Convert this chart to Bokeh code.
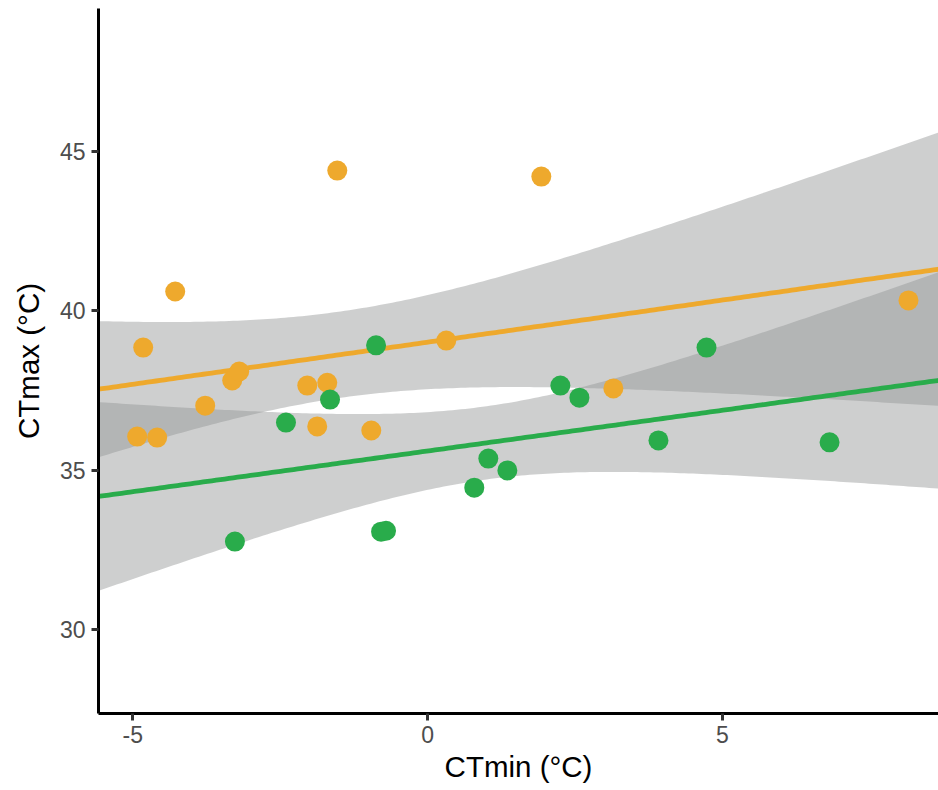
import numpy as np
from bokeh.plotting import figure
from bokeh.models import Range1d, FixedTicker
from bokeh.embed import file_html
from bokeh.resources import INLINE

# ---- data ----
orange_x = [-4.926, -4.824, -4.587, -4.281, -3.772, -3.314, -3.195, -2.041,
            -1.872, -1.702, -1.532, -0.955, 0.317, 1.929, 3.151, 8.157]
orange_y = [36.06, 38.85, 36.03, 40.61, 37.03, 37.82, 38.10, 37.66,
            36.38, 37.75, 44.40, 36.25, 39.07, 44.21, 37.57, 40.33]

green_x = [-3.268, -2.402, -1.655, -0.874, -0.789, -0.705, 0.792, 1.030,
           1.353, 2.252, 2.575, 3.916, 4.731, 6.818]
green_y = [32.77, 36.50, 37.22, 38.92, 33.08, 33.11, 34.46, 35.37,
           35.00, 37.66, 37.28, 35.94, 38.85, 35.88]

x_ticks = [-5, 0, 5]
x_tick_labels = {-5: "-5", 0: "0", 5: "5"}
y_ticks = [30, 35, 40, 45]

# 97.5% Student t quantiles by residual degrees of freedom
T_975 = {12: 2.1788, 14: 2.1448}

ORANGE = "#EEA92D"
GREEN = "#29AC4B"
FONT = "Liberation Sans"


def lm_band(xs, ys, grid):
    x = np.asarray(xs, float)
    y = np.asarray(ys, float)
    n = len(x)
    xb, yb = x.mean(), y.mean()
    sxx = ((x - xb) ** 2).sum()
    b = ((x - xb) * (y - yb)).sum() / sxx
    a = yb - b * xb
    resid = y - (a + b * x)
    s = np.sqrt((resid ** 2).sum() / (n - 2))
    fit = a + b * grid
    se = s * np.sqrt(1.0 / n + (grid - xb) ** 2 / sxx)
    t = T_975[n - 2]
    return fit, fit - t * se, fit + t * se


p = figure(width=938, height=790, output_backend="svg", toolbar_location=None,
           x_range=Range1d(-5.582, 8.666), y_range=Range1d(27.38, 49.48),
           min_border_left=98, min_border_right=0, min_border_top=8,
           min_border_bottom=77, background_fill_color="white")
p.grid.visible = False
p.outline_line_color = None

grid = np.linspace(-5.7, 8.8, 200)

fits = []
for xs, ys in [(orange_x, orange_y), (green_x, green_y)]:
    fit, lo, hi = lm_band(xs, ys, grid)
    fits.append(fit)
    p.varea(x=grid, y1=lo, y2=hi, fill_color="#929494", fill_alpha=0.45)

p.line(grid, fits[0], line_color=ORANGE, line_width=4.8)
p.line(grid, fits[1], line_color=GREEN, line_width=4.8)

p.scatter(orange_x, orange_y, size=20, fill_color=ORANGE, line_color=None)
p.scatter(green_x, green_y, size=20, fill_color=GREEN, line_color=None)

p.xaxis.ticker = FixedTicker(ticks=x_ticks)
p.yaxis.ticker = FixedTicker(ticks=y_ticks)
p.xaxis.major_label_overrides = x_tick_labels
p.xaxis.axis_label = "CTmin (°C)"
p.yaxis.axis_label = "CTmax (°C)"

for ax in [p.xaxis[0], p.yaxis[0]]:
    ax.axis_line_width = 3
    ax.axis_line_color = "black"
    ax.major_tick_line_width = 3
    ax.major_tick_line_color = "#333333"
    ax.major_tick_out = 7
    ax.major_tick_in = 0
    ax.minor_tick_out = 0
    ax.minor_tick_in = 0
    ax.major_label_text_font = FONT
    ax.major_label_text_font_size = "23px"
    ax.major_label_text_color = "#4D4D4D"
    ax.axis_label_text_font = FONT
    ax.axis_label_text_font_size = "29.5px"
    ax.axis_label_text_font_style = "normal"
    ax.axis_label_text_color = "black"

p.xaxis.major_label_standoff = 5
p.xaxis.axis_label_standoff = 4
p.yaxis.major_label_standoff = 6
p.yaxis.axis_label_standoff = 12

open("out.html", "w").write(file_html(p, INLINE))
